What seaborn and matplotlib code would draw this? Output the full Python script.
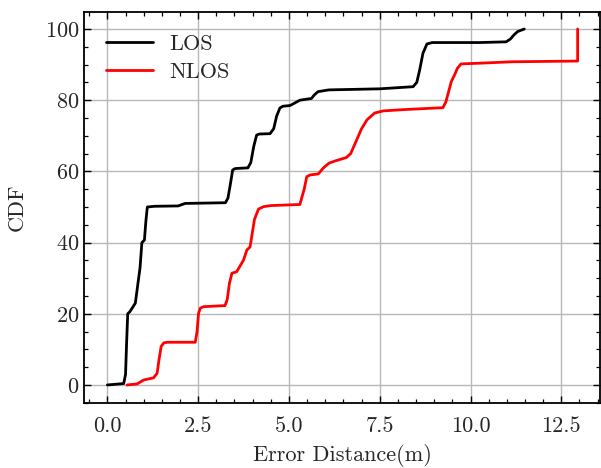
import pandas as pd
import matplotlib
matplotlib.use("Agg")
import matplotlib.pyplot as plt
import matplotlib.ticker as mtick
import seaborn as sns

# aflæste punkter på CDF-kurverne (fejlafstand i m, CDF i %)
los_x = [0, 0.45, 0.5, 0.53, 0.56, 0.62, 0.77, 0.9, 0.95, 1.02, 1.06, 1.1, 1.3, 1.95,
         2.14, 3.25, 3.32, 3.38, 3.45, 3.52, 3.87, 3.95, 4.03, 4.11, 4.18, 4.48, 4.58,
         4.66, 4.75, 4.83, 5.03, 5.3, 5.62, 5.7, 5.8, 6.1, 7.5, 8.42, 8.52, 8.6,
         8.69, 8.8, 8.95, 10.25, 10.98, 11.1, 11.2, 11.3, 11.48]
los_y = [0, 0.4, 3, 12, 20, 20.6, 23, 33, 40, 40.7, 46, 50, 50.2, 50.3,
         51, 51.2, 52.5, 56, 60.4, 60.8, 61, 62.5, 67, 70.2, 70.5, 70.6, 72,
         75.5, 77.8, 78.3, 78.5, 80, 80.5, 81.5, 82.4, 82.9, 83.2, 83.8, 85, 88.5,
         93.2, 95.8, 96.2, 96.2, 96.4, 97.2, 98.4, 99.3, 100]

nlos_x = [0.54, 0.82, 1.0, 1.27, 1.37, 1.42, 1.48, 1.55, 1.65, 2.42, 2.47, 2.51, 2.56,
          2.65, 3.24, 3.3, 3.36, 3.43, 3.56, 3.75, 3.84, 3.93, 3.98, 4.05, 4.16, 4.3,
          4.5, 5.3, 5.42, 5.49, 5.58, 5.81, 5.95, 6.1, 6.26, 6.58, 6.7, 6.85, 7.0,
          7.15, 7.36, 7.6, 8.23, 9.24, 9.32, 9.4, 9.47, 9.56, 9.64, 9.74, 10.25,
          11.16, 12.95, 12.95]
nlos_y = [0, 0.3, 1.4, 2, 3.3, 7, 10.8, 11.8, 12, 12, 15, 20.1, 21.6,
          22, 22.3, 24, 28.5, 31.4, 31.8, 35.1, 37.9, 38.8, 42, 46.5, 49.4, 50.1,
          50.4, 50.7, 55, 58.5, 59, 59.3, 61, 62.3, 62.9, 63.9, 65, 68.5, 72,
          74.5, 76.4, 77, 77.4, 77.9, 79.5, 82.5, 85.2, 87.1, 89, 90.2, 90.4,
          90.8, 91, 100]

df = pd.concat([
    pd.DataFrame({"dist": los_x, "cdf": los_y, "Type": "LOS"}),
    pd.DataFrame({"dist": nlos_x, "cdf": nlos_y, "Type": "NLOS"}),
], ignore_index=True)

sns.set_theme(style="ticks")
plt.rcParams["font.family"] = "serif"
plt.rcParams["font.serif"] = ["cmr10"]
plt.rcParams["mathtext.fontset"] = "cm"
plt.rcParams["axes.formatter.use_mathtext"] = True
plt.rcParams["axes.unicode_minus"] = False

fig = plt.figure(figsize=(6.01, 4.68), dpi=100)
ax = fig.add_axes([0.14, 0.139, 0.858, 0.8355])

sns.lineplot(data=df, x="dist", y="cdf", hue="Type",
             palette={"LOS": "black", "NLOS": "red"},
             estimator=None, sort=False, linewidth=2.0, ax=ax)

ax.set_xlim(-0.64, 13.56)
ax.set_ylim(-5.05, 104.8)
ax.xaxis.set_major_locator(mtick.MultipleLocator(2.5))
ax.xaxis.set_minor_locator(mtick.MultipleLocator(0.5))
ax.yaxis.set_major_locator(mtick.MultipleLocator(20))
ax.yaxis.set_minor_locator(mtick.MultipleLocator(5))
ax.xaxis.set_major_formatter(mtick.FormatStrFormatter("%.1f"))

ax.grid(True, which="major", color="#b8b8b8", linewidth=1.0)
ax.tick_params(which="both", direction="in", top=True, right=True,
               labelsize=16, color="black")
ax.tick_params(which="major", length=5, width=1.0)
ax.tick_params(which="minor", length=3, width=0.9)
ax.tick_params(axis="x", which="major", pad=10)
for spine in ax.spines.values():
    spine.set_linewidth(1.3)
    spine.set_edgecolor("black")

ax.set_xlabel("Error Distance(m)", fontsize=16, labelpad=5.5)
ax.set_ylabel("CDF", fontsize=16, labelpad=13)

leg = ax.legend(loc="upper left", frameon=False, fontsize=16,
                handlelength=2.1, handletextpad=0.75, borderaxespad=0.6,
                labelspacing=0.4)
leg.set_title(None)

fig.savefig("out.png", dpi=100)
